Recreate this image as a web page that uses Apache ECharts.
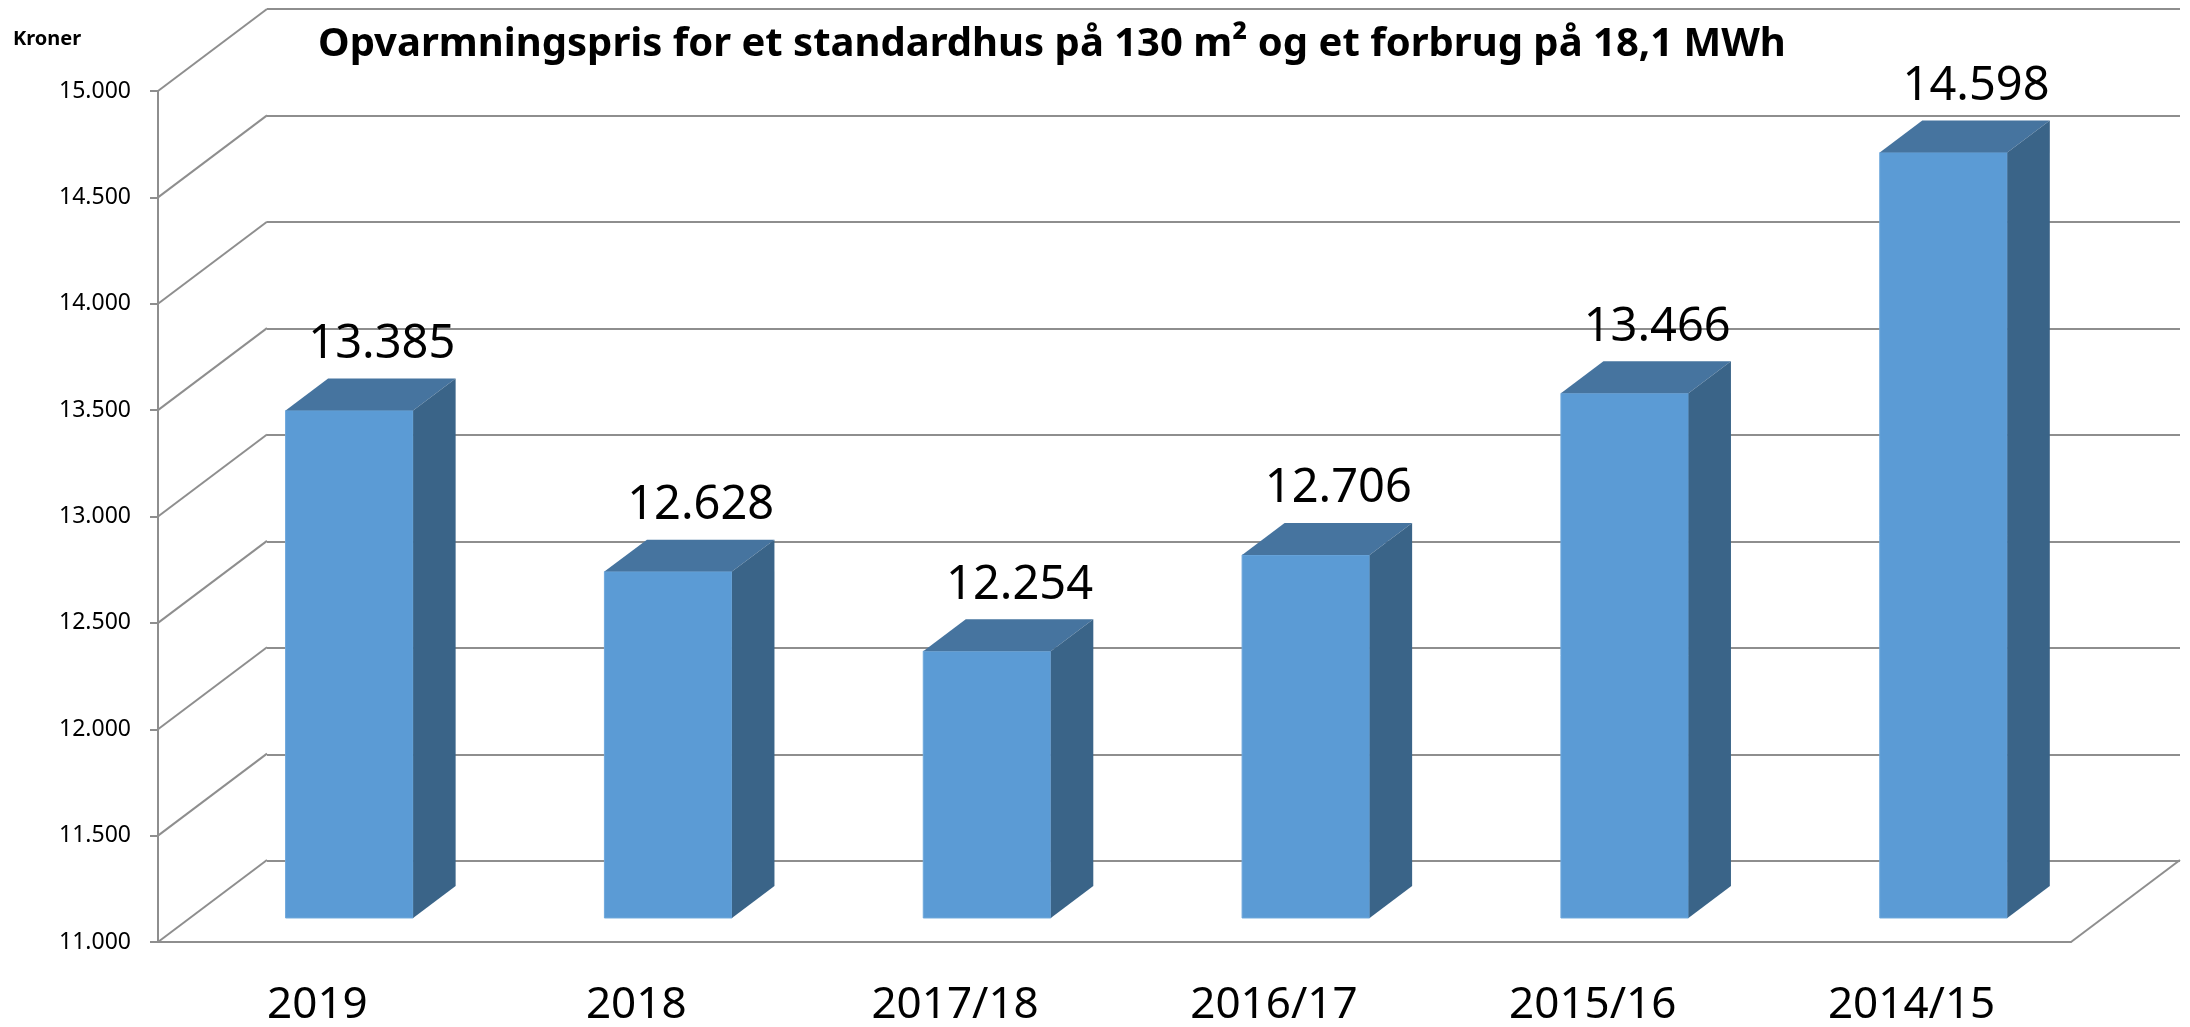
<!DOCTYPE html>
<html>
<head>
<meta charset="utf-8">
<title>Opvarmningspris</title>
<script src="https://cdn.jsdelivr.net/npm/echarts@6/dist/echarts.min.js"></script>
<style>
html, body { margin: 0; background: #fff; }
#chart { width: 2190px; height: 1027px; }
</style>
</head>
<body>
<div id="chart"></div>
<script>
// data
const categories = ['2019', '2018', '2017/18', '2016/17', '2015/16', '2014/15']
const prices = [13385, 12628, 12254, 12706, 13466, 14598]
const yTicks = [11000, 11500, 12000, 12500, 13000, 13500, 14000, 14500, 15000]

// fake 3D: offset of the back wall from the front plane, bar placement inside the depth
const DEPTH = [109, -82]
const BAR_FRONT = 0.293
const BAR_BACK = 0.683
const BAR_WIDTH = 0.4
const FONT = 'Noto Sans'
const GRID_COLOR = '#8e8e8e'

const fmt = v => String(v).replace(/\B(?=(\d{3})+(?!\d))/g, '.')
const gridLine = { color: GRID_COLOR, width: 2 }

const chart = echarts.init(document.getElementById('chart'))

chart.setOption({
  animation: false,
  title: {
    text: 'Opvarmningspris for et standardhus på 130 m² og et forbrug på 18,1 MWh',
    left: 313,
    top: 20,
    textStyle: { fontFamily: FONT, fontSize: 40, fontWeight: 'bold', color: '#000' }
  },
  graphic: [{
    type: 'text', left: 13, top: 29,
    style: { text: 'Kroner', font: 'bold 20px "Noto Sans"', fill: '#000' }
  }],
  grid: [
    { left: 158, right: 119, top: 91, bottom: 84 },  // front plane
    { left: 267, right: 10, top: 9, bottom: 166 }     // back wall
  ],
  xAxis: [
    {
      type: 'category', gridIndex: 0, data: categories,
      axisLine: { lineStyle: gridLine },
      axisTick: { length: 15, lineStyle: gridLine },
      axisLabel: { fontFamily: FONT, fontSize: 44, color: '#000', margin: 41 }
    },
    { type: 'category', gridIndex: 1, data: categories, show: false }
  ],
  yAxis: [
    {
      type: 'value', gridIndex: 0, min: 11000, max: 15000, interval: 500,
      axisLine: { show: true, lineStyle: gridLine },
      axisTick: { show: true, length: 8, lineStyle: gridLine },
      splitLine: { show: false },
      axisLabel: { formatter: fmt, fontFamily: FONT, fontSize: 23, color: '#000', margin: 27 }
    },
    {
      type: 'value', gridIndex: 1, min: 11000, max: 15000, interval: 500,
      axisLine: { show: false }, axisTick: { show: false }, axisLabel: { show: false },
      splitLine: { show: true, lineStyle: gridLine }
    }
  ],
  series: [
    {
      // left wall diagonals + right floor edge
      type: 'custom', xAxisIndex: 0, yAxisIndex: 0, z: 1, silent: true,
      data: yTicks.map(v => [0, v]),
      renderItem: (params, api) => {
        const cs = params.coordSys
        const y = api.coord([0, api.value(1)])[1]
        const style = { stroke: GRID_COLOR, lineWidth: 2 }
        const kids = [{
          type: 'line', style,
          shape: { x1: cs.x, y1: y, x2: cs.x + DEPTH[0], y2: y + DEPTH[1] }
        }]
        if (params.dataIndex === 0) {
          const xr = cs.x + cs.width
          kids.push({ type: 'line', style, shape: { x1: xr, y1: y, x2: xr + DEPTH[0], y2: y + DEPTH[1] } })
        }
        return { type: 'group', children: kids }
      }
    },
    {
      type: 'custom', xAxisIndex: 0, yAxisIndex: 0, z: 3, silent: true,
      data: prices.map((v, i) => [i, v]),
      renderItem: (params, api) => {
        const i = api.value(0), v = api.value(1)
        const base = api.coord([i, yTicks[0]])
        const top = api.coord([i, v])
        const bw = api.size([1, 0])[0] * BAR_WIDTH
        const x0 = base[0] - bw / 2 + BAR_FRONT * DEPTH[0]
        const x1 = x0 + bw
        const yt = top[1] + BAR_FRONT * DEPTH[1]
        const yb = base[1] + BAR_FRONT * DEPTH[1]
        const dx = (BAR_BACK - BAR_FRONT) * DEPTH[0]
        const dy = (BAR_BACK - BAR_FRONT) * DEPTH[1]
        return {
          type: 'group',
          children: [
            { type: 'rect', shape: { x: x0, y: yt, width: bw, height: yb - yt },
              style: { fill: '#5b9bd5', stroke: '#6ea8dc', lineWidth: 1 } },
            { type: 'polygon', shape: { points: [[x0, yt], [x1, yt], [x1 + dx, yt + dy], [x0 + dx, yt + dy]] },
              style: { fill: '#46749f' } },
            { type: 'polygon', shape: { points: [[x1, yt], [x1 + dx, yt + dy], [x1 + dx, yb + dy], [x1, yb]] },
              style: { fill: '#3a6488' } },
            { type: 'text', x: x0 + bw / 2 + dx - 10, y: yt + dy - 34,
              style: { text: fmt(v), font: '47px "Noto Sans"', fill: '#000', align: 'center', verticalAlign: 'middle' } }
          ]
        }
      }
    }
  ]
})
</script>
</body>
</html>
